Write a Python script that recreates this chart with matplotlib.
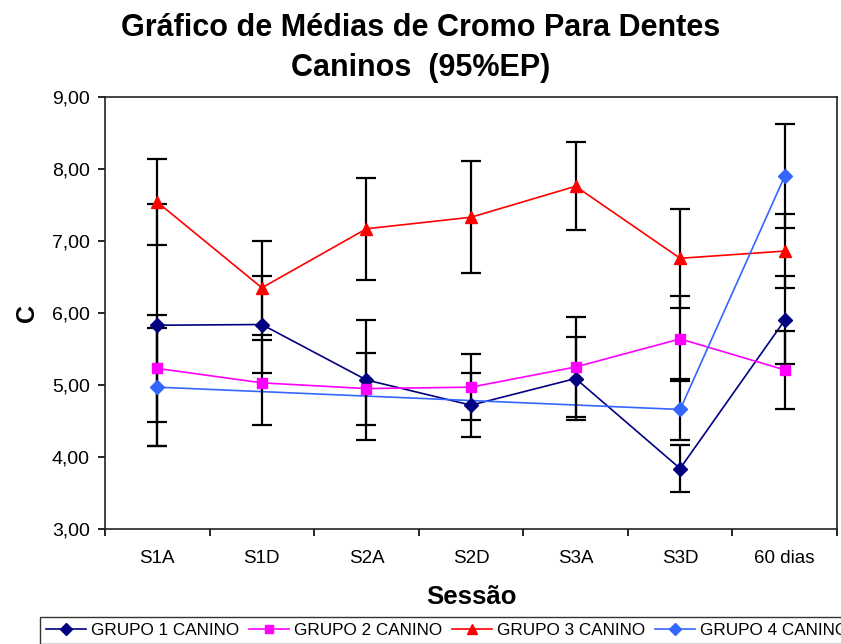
import numpy as np
import matplotlib
matplotlib.use("Agg")
import matplotlib.pyplot as plt
from matplotlib.ticker import FixedLocator, FuncFormatter

plt.rcParams['font.family'] = ['Liberation Sans', 'DejaVu Sans']

sessoes = ["S1A", "S1D", "S2A", "S2D", "S3A", "S3D", "60 dias"]

# medias e erros (95%EP) por grupo
g1_media = [5.83, 5.84, 5.07, 4.72, 5.09, 3.84, 5.90]
g1_erro = [1.68, 0.67, 0.83, 0.44, 0.57, 0.33, 0.61]
g2_media = [5.23, 5.03, 4.95, 4.97, 5.25, 5.64, 5.21]
g2_erro = [0.74, 0.59, 0.50, 0.46, 0.70, 0.59, 0.54]
g3_media = [7.54, 6.35, 7.17, 7.33, 7.76, 6.76, 6.86]
g3_erro = [0.60, 0.65, 0.71, 0.78, 0.61, 0.69, 0.51]
# grupo 4 so tem S1A, S3D e 60 dias
g4_sessoes = ["S1A", "S3D", "60 dias"]
g4_media = [4.97, 4.66, 7.90]
g4_erro = [0.82, 0.43, 0.72]

grupos = [
    ("GRUPO 1 CANINO", sessoes, g1_media, g1_erro, "#000080", "D", 7),
    ("GRUPO 2 CANINO", sessoes, g2_media, g2_erro, "#FF00FF", "s", 7),
    ("GRUPO 3 CANINO", sessoes, g3_media, g3_erro, "#FF0000", "^", 8),
    ("GRUPO 4 CANINO", g4_sessoes, g4_media, g4_erro, "#3366FF", "D", 7),
]

fig = plt.figure(figsize=(8.41, 6.44), dpi=100)
ax = fig.add_axes([105 / 841, 1 - 529 / 644, 732 / 841, 432 / 644])

handles = []
for nome, cats, media, erro, cor, mk, ms in grupos:
    x = [sessoes.index(c) for c in cats]
    ax.plot(x, media, color=cor, lw=1.2, zorder=2)
    ax.errorbar(x, media, yerr=erro, fmt="none", ecolor="black",
                elinewidth=1.6, capsize=7.5, capthick=1.6, zorder=3)
    ax.plot(x, media, marker=mk, ms=ms, markeredgecolor=cor,
            markerfacecolor=cor, linestyle="none", zorder=4)
    handles.append(plt.Line2D([], [], color=cor, lw=1.2, marker=mk,
                              ms=ms - 1, label=nome))

ax.set_xlim(-0.5, 6.5)
ax.set_ylim(3, 9)
ax.set_yticks(np.arange(3, 9.01, 1))
ax.yaxis.set_major_formatter(FuncFormatter(lambda v, p: f"{v:.2f}".replace(".", ",")))
ax.set_xticks(range(len(sessoes)))
ax.set_xticklabels(sessoes)
ax.xaxis.set_minor_locator(FixedLocator(np.arange(-0.5, 6.6, 1)))
ax.tick_params(axis="x", which="major", length=0, pad=15, labelsize=13.5)
ax.tick_params(axis="x", which="minor", length=5, width=1.2, direction="out")
ax.tick_params(axis="y", length=5, width=1.2, direction="out", pad=6, labelsize=14)
for s in ax.spines.values():
    s.set_linewidth(1.2)
    s.set_color("#222222")

ax.set_ylabel("C", fontsize=18, fontweight="bold", labelpad=9)
ax.set_xlabel("Sessão", fontsize=18.5, fontweight="bold", labelpad=13)

fig.text(0.5, 1 - 28 / 644, "Gráfico de Médias de Cromo Para Dentes",
         ha="center", va="center", fontsize=22, fontweight="bold")
fig.text(0.5, 1 - 68 / 644, "Caninos  (95%EP)",
         ha="center", va="center", fontsize=22, fontweight="bold")

leg = fig.legend(handles=handles, loc="upper left", ncol=4,
                 bbox_to_anchor=(40 / 841, 1 - 617 / 644),
                 frameon=True, fancybox=False, fontsize=12.3,
                 handlelength=2.35, handletextpad=0.3, columnspacing=0.55,
                 borderpad=0.35, borderaxespad=0)
leg.get_frame().set_edgecolor("black")
leg.get_frame().set_linewidth(1.0)

fig.savefig("out.png", dpi=100)
